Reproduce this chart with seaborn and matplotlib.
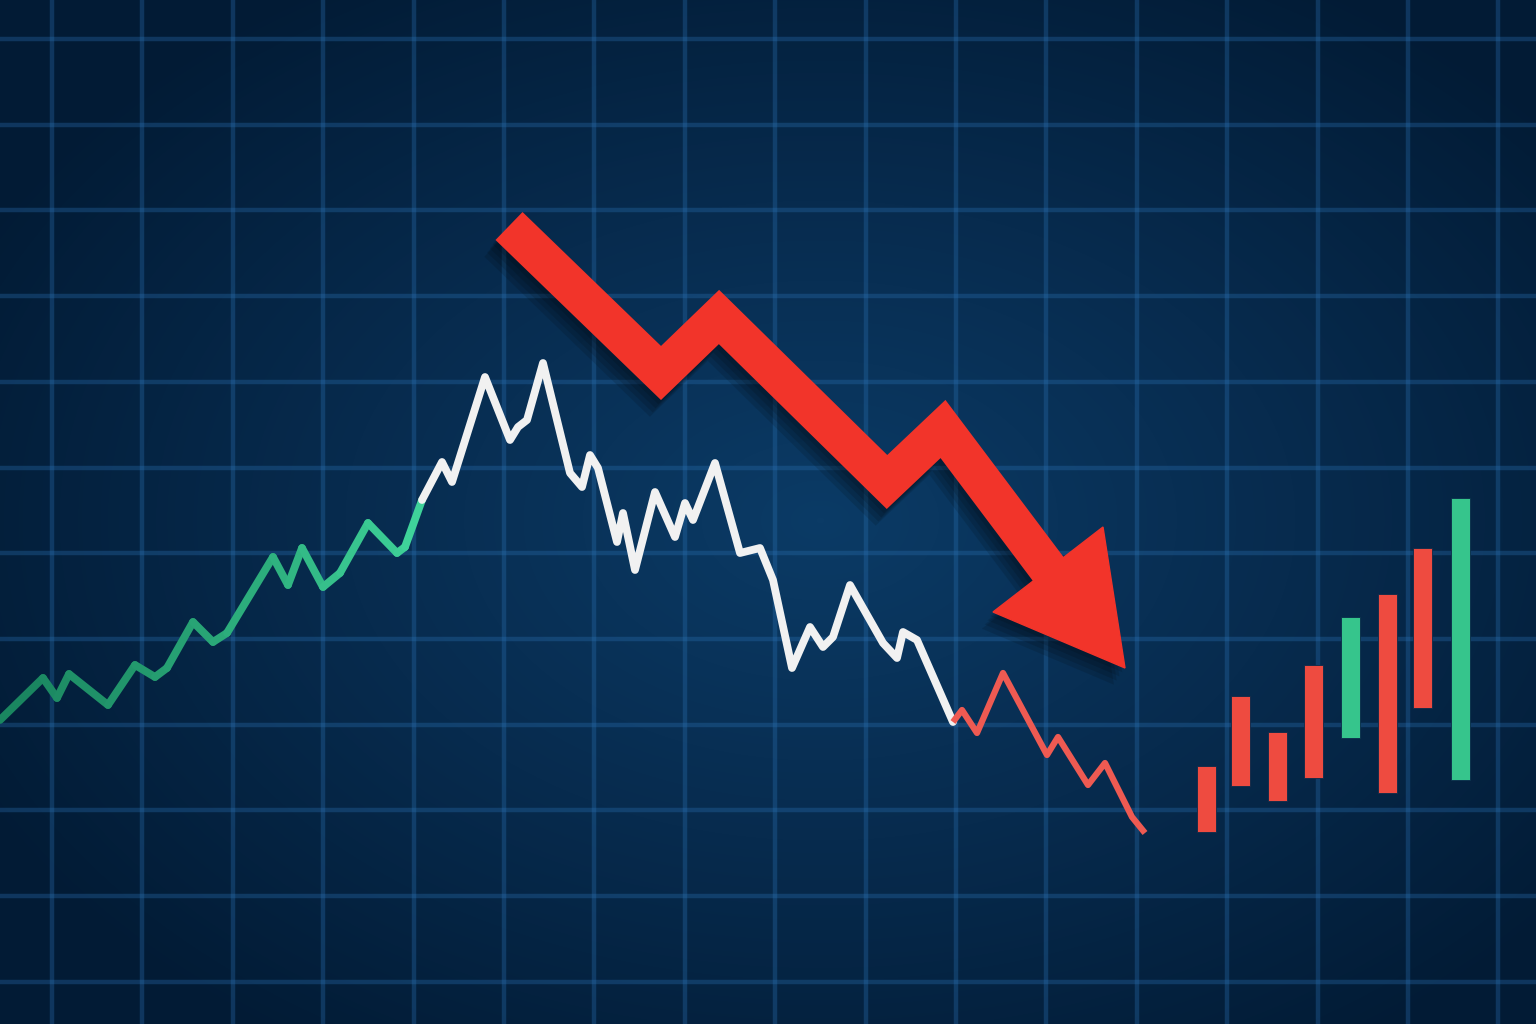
import numpy as np
import pandas as pd
import seaborn as sns
import matplotlib.pyplot as plt
import matplotlib.patheffects as pe
from matplotlib.colors import LinearSegmentedColormap

W, H = 1536, 1024

# price line, three phases (pixel-like units, y grows downward)
green_x = [0, 43, 57, 69, 108, 135, 155, 167, 193, 213, 227, 273, 288, 302, 323, 340, 368, 397, 405, 422]
green_y = [720, 678, 698, 674, 705, 665, 677, 668, 622, 642, 633, 557, 585, 548, 587, 573, 523, 553, 547, 500]
white_x = [422, 442, 452, 485, 510, 518, 527, 543, 570, 582, 590, 598, 617, 623, 635, 655, 675, 685, 693,
           715, 740, 760, 773, 792, 810, 823, 833, 850, 883, 897, 903, 917, 953]
white_y = [500, 462, 482, 377, 440, 427, 420, 363, 473, 487, 455, 468, 542, 513, 570, 492, 537, 503, 520,
           463, 553, 548, 580, 668, 627, 647, 637, 585, 643, 658, 632, 640, 722]
red_x = [953, 962, 977, 1003, 1047, 1058, 1088, 1105, 1120, 1132, 1145]
red_y = [722, 710, 733, 673, 755, 737, 785, 763, 793, 817, 833]

# big trend arrow
arrow_x = [509, 661, 719, 887, 943, 1052]
arrow_y = [226, 373, 317, 482, 429, 574]
head_x = [993, 1103, 1125]
head_y = [612, 527, 668]

# candles
candle_x = [1206, 1240, 1277, 1313, 1350, 1387, 1422, 1460]
candle_top = [766, 696, 732, 665, 617, 594, 548, 498]
candle_bottom = [832, 786, 801, 778, 738, 793, 708, 780]
candle_up = [False, False, False, False, True, False, False, True]

grid_x = [52 + 90.4 * k for k in range(17)]
grid_y = [39 + 85.7 * k for k in range(12)]

RED = "#f2342a"
CANDLE_RED = "#ee4b40"
CANDLE_GREEN = "#36c58c"


def main():
    fig = plt.figure(figsize=(W / 100, H / 100), dpi=100)
    ax = fig.add_axes([0, 0, 1, 1])
    ax.set_axis_off()

    # background vignette
    yy, xx = np.mgrid[0:H, 0:W]
    d = np.sqrt(((xx - 820) / 950) ** 2 + ((yy - 520) / 640) ** 2)
    bg = LinearSegmentedColormap.from_list("bg", ["#0b3b66", "#072b4e", "#021b35"])
    ax.imshow(np.clip(d, 0, 1), cmap=bg, extent=(0, W, H, 0), aspect="auto", zorder=0)

    for gx in grid_x:
        ax.axvline(gx, color="#2a70b2", alpha=0.33, lw=3.2, zorder=1)
    for gy in grid_y:
        ax.axhline(gy, color="#2a70b2", alpha=0.33, lw=3.2, zorder=1)

    # green part with a gradient: one hue per segment
    rows = []
    for i in range(len(green_x) - 1):
        rows.append({"x": green_x[i], "y": green_y[i], "seg": i})
        rows.append({"x": green_x[i + 1], "y": green_y[i + 1], "seg": i})
    gdf = pd.DataFrame(rows)
    pal = sns.blend_palette(["#1a8660", "#2aa878", "#3fd39a"], n_colors=len(green_x) - 1)
    sns.lineplot(data=gdf, x="x", y="y", hue="seg", palette=pal, sort=False, estimator=None,
                 legend=False, linewidth=5.6, solid_capstyle="round", solid_joinstyle="round",
                 ax=ax, zorder=3)

    sns.lineplot(x=white_x, y=white_y, sort=False, estimator=None, color="#f1f1f1",
                 linewidth=5.6, solid_capstyle="round", solid_joinstyle="round", ax=ax, zorder=3)
    sns.lineplot(x=red_x, y=red_y, sort=False, estimator=None, color="#ee5a52",
                 linewidth=4.5, solid_capstyle="butt", solid_joinstyle="round", ax=ax, zorder=3)

    # candles
    colors = [CANDLE_GREEN if up else CANDLE_RED for up in candle_up]
    heights = [b - t for t, b in zip(candle_top, candle_bottom)]
    ax.bar(candle_x, heights, bottom=candle_top, width=19, color=colors,
           edgecolor="#0a2a4a", linewidth=0.6, zorder=3)

    # arrow with a soft, layered shadow
    line_fx = [pe.SimpleLineShadow(offset=(-2 - 2 * k, -3 - 3 * k), shadow_color="black", alpha=0.12)
               for k in range(4)] + [pe.Normal()]
    patch_fx = [pe.SimplePatchShadow(offset=(-2 - 2 * k, -3 - 3 * k), shadow_rgbFace="black", alpha=0.12)
                for k in range(4)] + [pe.Normal()]
    ax.plot(arrow_x, arrow_y, color=RED, lw=28, solid_joinstyle="miter", solid_capstyle="butt",
            path_effects=line_fx, zorder=4)
    ax.fill(head_x, head_y, color=RED, zorder=4, path_effects=patch_fx)

    ax.set_xlim(0, W)
    ax.set_ylim(H, 0)
    fig.savefig("out.png", dpi=100)


if __name__ == "__main__":
    main()
